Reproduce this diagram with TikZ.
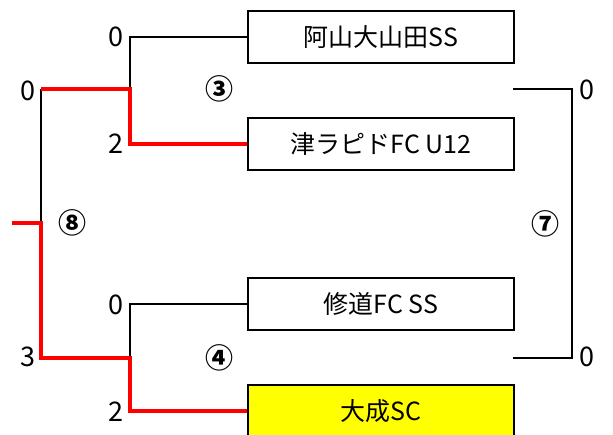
\documentclass[tikz,border=0pt]{standalone}
\usepackage{fontspec}
\setmainfont{Noto Sans CJK JP}
\usepackage{tikz}
\usetikzlibrary{positioning}
\definecolor{winred}{rgb}{1.,0.,0.}
\definecolor{teamyellow}{rgb}{1.,1.,0.}
\tikzset{
  team/.style={draw,line width=2pt,minimum width=266pt,minimum height=52pt,inner sep=0pt,font=\fontsize{25}{30}\selectfont},
  score/.style={font=\fontsize{27}{32}\selectfont,inner sep=0pt},
  game/.style={font=\fontsize{28}{32}\selectfont\bfseries,inner sep=0pt},
  lose/.style={line width=2pt},
  win/.style={line width=4pt,color=winred}
}
\begin{document}
\begin{tikzpicture}[line join=miter,x=1pt,y=-1pt]
\useasboundingbox (0,0) rectangle (613,435);
\clip (0,0) rectangle (613,435);
% teams
\node[team] (ayama) at (381,37) {阿山大山田SS};
\node[team] (tsu) at (381,144) {津ラピドFC U12};
\node[team] (shudo) at (381,304) {修道FC SS};
\node[team,fill=teamyellow] (taisei) at (381,411) {大成SC};
% joints
\coordinate (g3) at (130,89);
\coordinate (g4) at (130,358);
\coordinate (g8top) at (41,89);
\coordinate (g8bot) at (41,358);
\coordinate (g8) at (41,223);
\coordinate (champ) at (12,223);
\coordinate (g7top) at (513,89);
\coordinate (g7bot) at (513,358);
\coordinate (g7) at (572,224);
% lines
\draw[lose] (ayama.west) -| (g3);
\draw[lose] (shudo.west) -| (g4);
\draw[lose] (g8top) -- (g8);
\draw[lose] (g7top) -| (g7) |- (g7bot);
\draw[win] (tsu.west) -| (g3) -- (g8top);
\draw[win] (taisei.west) -| (g4) -- (g8bot) -- (g8) -- (champ);
% scores
\node[score] (s1) at (116,37) {0};
\node[score] (s2) at (116,144) {2};
\node[score] (s3) at (116,305) {0};
\node[score] (s4) at (116,412) {2};
\node[score] (s5) at (28,91) {0};
\node[score] (s6) at (28,357) {3};
\node[score] (s7) at (587,90) {0};
\node[score] (s8) at (587,357) {0};
% game numbers
\node[game] (n3) at (219,89) {③};
\node[game] (n4) at (219,358) {④};
\node[game] (n8) at (72,223) {⑧};
\node[game] (n7) at (545,224) {⑦};
\end{tikzpicture}
\end{document}
